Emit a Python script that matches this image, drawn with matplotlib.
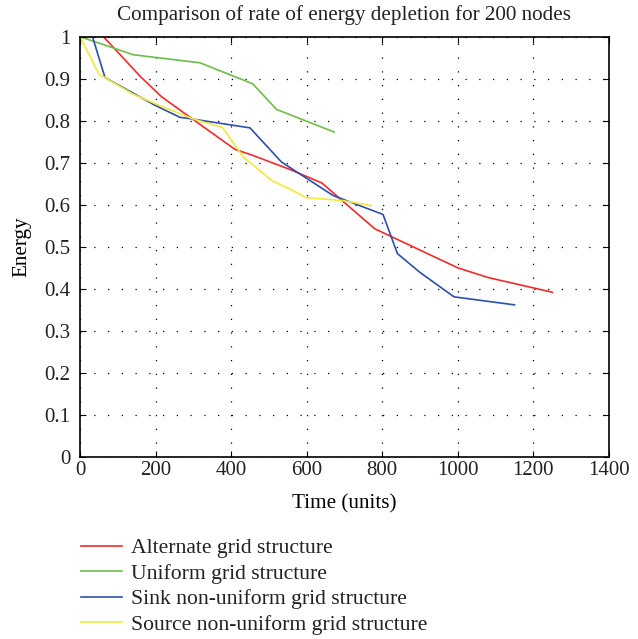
import numpy as np
import matplotlib
matplotlib.use("Agg")
import matplotlib.pyplot as plt

plt.rcParams['font.family'] = ['Liberation Serif', 'DejaVu Serif']
plt.rcParams['text.color'] = '#222222'
plt.rcParams['xtick.labelcolor'] = '#222222'
plt.rcParams['ytick.labelcolor'] = '#222222'

# data
alt_x = [62, 160, 216, 304, 410, 456, 556, 640, 780, 1000, 1080, 1250]
alt_y = [1.0, 0.905, 0.857, 0.80, 0.732, 0.718, 0.684, 0.652, 0.543, 0.450, 0.427, 0.392]

uni_x = [0, 141, 317, 457, 520, 673]
uni_y = [1.0, 0.957, 0.938, 0.888, 0.827, 0.773]

sink_x = [0, 33, 66, 198, 265, 291, 450, 533, 670, 802, 840, 900, 990, 1150]
sink_y = [1.0, 1.0, 0.903, 0.837, 0.808, 0.805, 0.783, 0.702, 0.622, 0.577, 0.484, 0.439, 0.381, 0.362]

src_x = [0, 51, 66, 141, 198, 300, 377, 432, 507, 556, 599, 696, 771]
src_y = [1.0, 0.909, 0.903, 0.863, 0.841, 0.804, 0.784, 0.714, 0.658, 0.637, 0.617, 0.610, 0.598]

labels = ['Alternate grid structure', 'Uniform grid structure',
          'Sink non-uniform grid structure', 'Source non-uniform grid structure']
colors = ['#f42a2a', '#6cbf45', '#2d4fae', '#f2e93a']

fig = plt.figure(figsize=(6.38, 6.39), dpi=100)
ax = fig.add_axes([0.1254, 0.2848, 0.8291, 0.6578])

series = [(alt_x, alt_y), (uni_x, uni_y), (sink_x, sink_y), (src_x, src_y)]
handles = []
for (x, y), c, lab in zip(series, colors, labels):
    h, = ax.plot(x, y, color=c, lw=1.2, label=lab)
    handles.append(h)

ax.set_xlim(0, 1400)
ax.set_ylim(0, 1)
ax.set_xticks(np.arange(0, 1401, 200))
ax.set_yticks(np.arange(0, 1.01, 0.1))
ax.set_yticklabels(['0', '0.1', '0.2', '0.3', '0.4', '0.5', '0.6', '0.7', '0.8', '0.9', '1'])
ax.tick_params(direction='in', length=4, width=0.8, labelsize=15, top=True, right=True)
ax.tick_params(axis='y', pad=7)
ax.tick_params(axis='x', pad=3)
ax.grid(True, color='black', linestyle=(0, (1, 10)), linewidth=0.9)
for s in ax.spines.values():
    s.set_linewidth(1.2)

ax.set_title('Comparison of rate of energy depletion for 200 nodes', fontsize=15.2, pad=12)
ax.set_xlabel('Time (units)', fontsize=15.2, labelpad=10)
ax.set_ylabel('Energy', fontsize=15.2, labelpad=9)

fig.legend(handles=handles, loc='upper left', bbox_to_anchor=(0.127, 0.158),
           frameon=False, fontsize=15.6, handlelength=1.9, handletextpad=0.4,
           labelspacing=0.25, borderaxespad=0, borderpad=0)

fig.savefig('out.png', dpi=100)
